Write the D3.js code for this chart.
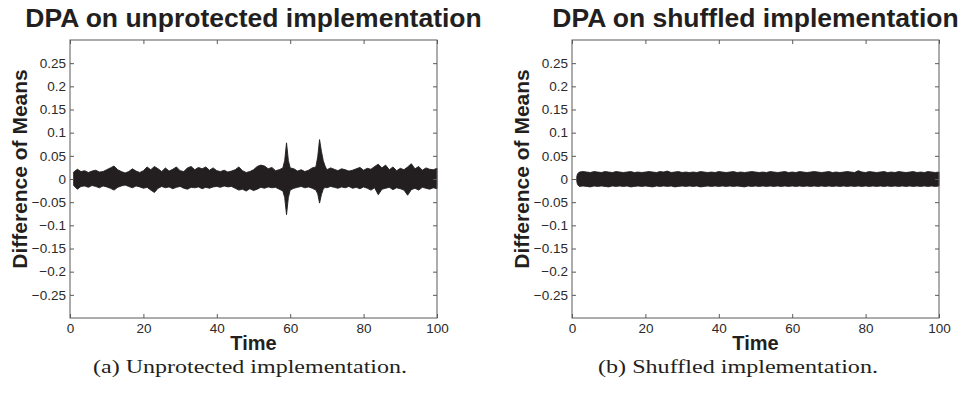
<!DOCTYPE html>
<html>
<head>
<meta charset="utf-8">
<script src="https://cdn.jsdelivr.net/npm/d3@7"></script>
<style>
  html, body { margin: 0; padding: 0; background: #fff; }
  svg { display: block; }
</style>
</head>
<body>
<svg id="chart" width="962" height="395"></svg>
<script>
// ---------------- DATA ----------------
const xTicks = [0, 20, 40, 60, 80, 100];
const xTickLabels = ["0", "20", "40", "60", "80", "100"];
const yTicks = [-0.25, -0.2, -0.15, -0.1, -0.05, 0, 0.05, 0.1, 0.15, 0.2, 0.25];
const yTickLabels = ["\u22120.25", "\u22120.2", "\u22120.15", "\u22120.1", "\u22120.05", "0", "0.05", "0.1", "0.15", "0.2", "0.25"];

const titles = ["DPA on unprotected implementation", "DPA on shuffled implementation"];
const captions = ["(a) Unprotected implementation.", "(b) Shuffled implementation."];
const xLabel = "Time";
const yLabel = "Difference of Means";

// Envelope of all difference-of-means traces, unprotected implementation
const timeA = [1,2,3,4,5,6,7,8,9,10,11,12,13,14,15,16,17,18,19,20,21,22,23,24,25,26,27,28,29,30,
  31,32,33,34,35,36,37,38,39,40,41,42,43,44,45,46,47,48,49,50,51,52,53,54,55,56,57,58,58.5,59,59.5,
  60,61,62,63,64,65,66,67,67.5,68,68.5,69,69.5,70,71,72,73,74,75,76,77,78,79,80,
  81,82,83,84,85,86,87,88,89,90,91,92,93,94,95,96,97,98,99,100];
const upperA = [0.015,0.021,0.016,0.018,0.014,0.017,0.019,0.015,0.016,0.020,
  0.024,0.028,0.020,0.016,0.013,0.016,0.022,0.017,0.014,0.018,
  0.026,0.020,0.027,0.022,0.016,0.024,0.017,0.021,0.026,0.018,
  0.016,0.024,0.027,0.020,0.025,0.022,0.026,0.019,0.024,0.018,
  0.016,0.019,0.015,0.017,0.020,0.026,0.018,0.014,0.016,0.020,
  0.027,0.030,0.028,0.022,0.025,0.018,0.020,0.024,
  0.040,0.078,0.040,
  0.024,0.022,0.017,0.020,0.016,0.019,0.024,0.026,
  0.048,0.085,0.060,0.040,0.028,
  0.020,0.024,0.021,0.018,0.022,0.020,0.017,0.019,0.022,0.025,0.019,
  0.023,0.021,0.027,0.032,0.024,0.030,0.020,0.026,0.018,0.023,
  0.020,0.026,0.033,0.022,0.027,0.019,0.024,0.021,0.020,0.023];
const lowerA = [-0.014,-0.022,-0.016,-0.015,-0.018,-0.014,-0.016,-0.019,-0.015,-0.017,
  -0.020,-0.024,-0.018,-0.015,-0.013,-0.016,-0.019,-0.015,-0.017,-0.020,
  -0.018,-0.024,-0.029,-0.020,-0.016,-0.019,-0.017,-0.021,-0.018,-0.016,
  -0.020,-0.022,-0.018,-0.019,-0.017,-0.021,-0.018,-0.020,-0.017,-0.016,
  -0.018,-0.015,-0.017,-0.016,-0.020,-0.024,-0.022,-0.026,-0.021,-0.025,
  -0.022,-0.018,-0.020,-0.017,-0.019,-0.018,-0.022,-0.026,
  -0.040,-0.077,-0.040,
  -0.024,-0.020,-0.018,-0.016,-0.019,-0.017,-0.020,-0.024,
  -0.032,-0.052,-0.034,-0.022,-0.018,
  -0.019,-0.016,-0.018,-0.020,-0.017,-0.019,-0.016,-0.020,-0.018,-0.021,-0.017,
  -0.020,-0.024,-0.019,-0.034,-0.022,-0.020,-0.018,-0.023,-0.019,-0.021,
  -0.024,-0.035,-0.023,-0.020,-0.024,-0.018,-0.020,-0.022,-0.019,-0.021];

// Envelope of all traces, shuffled implementation
const timeB = [1.3,1.5,2,3,4,5,6,7,8,9,10,11,12,13,14,15,16,17,18,19,20,21,22,23,24,25,26,27,28,29,30,
  31,32,33,34,35,36,37,38,39,40,41,42,43,44,45,46,47,48,49,50,51,52,53,54,55,56,57,58,59,60,
  61,62,63,64,65,66,67,68,69,70,71,72,73,74,75,76,77,78,79,80,81,82,83,84,85,86,87,88,89,90,
  91,92,93,94,95,96,97,98,99,100];
const upperB = [0.005,0.011,
  0.015,0.016,0.015,0.014,0.016,0.015,0.014,0.016,0.015,0.014,
  0.016,0.015,0.014,0.015,0.016,0.014,0.015,0.014,0.015,0.016,
  0.015,0.014,0.016,0.015,0.017,0.014,0.015,0.016,0.014,0.015,
  0.014,0.015,0.014,0.016,0.015,0.014,0.015,0.014,0.016,0.015,
  0.014,0.015,0.016,0.014,0.015,0.014,0.015,0.016,0.015,0.014,
  0.015,0.014,0.016,0.015,0.014,0.015,0.016,0.014,0.015,0.014,
  0.016,0.015,0.014,0.015,0.016,0.015,0.014,0.015,0.016,0.014,
  0.015,0.014,0.015,0.016,0.015,0.014,0.018,0.015,0.014,0.016,
  0.015,0.014,0.015,0.016,0.014,0.015,0.014,0.016,0.015,0.014,
  0.015,0.016,0.014,0.015,0.014,0.016,0.015,0.014,0.015];
const lowerB = [-0.005,-0.012,
  -0.016,-0.015,-0.016,-0.017,-0.015,-0.016,-0.015,-0.016,-0.017,-0.015,
  -0.016,-0.015,-0.016,-0.015,-0.017,-0.016,-0.015,-0.016,-0.015,-0.016,
  -0.017,-0.015,-0.016,-0.015,-0.016,-0.015,-0.017,-0.016,-0.015,-0.016,
  -0.015,-0.016,-0.015,-0.017,-0.016,-0.015,-0.016,-0.015,-0.016,-0.015,
  -0.016,-0.015,-0.016,-0.015,-0.016,-0.017,-0.015,-0.016,-0.015,-0.016,
  -0.015,-0.016,-0.015,-0.016,-0.015,-0.016,-0.015,-0.016,-0.015,-0.016,
  -0.015,-0.016,-0.015,-0.016,-0.015,-0.016,-0.015,-0.016,-0.015,-0.016,
  -0.015,-0.016,-0.015,-0.016,-0.015,-0.016,-0.015,-0.016,-0.015,-0.016,
  -0.015,-0.016,-0.015,-0.016,-0.015,-0.016,-0.015,-0.016,-0.015,-0.016,
  -0.015,-0.016,-0.015,-0.016,-0.015,-0.016,-0.015,-0.016,-0.015];

// ---------------- DRAWING ----------------
const svg = d3.select("#chart");
const SANS = "'Liberation Sans', Arial, Helvetica, sans-serif";
const SERIF = "'Liberation Serif', 'Times New Roman', serif";
const INK = "#231f20";
const AXIS = "#5a5a5a";

const panels = [
  { left: 70, right: 437, t: timeA, up: upperA, lo: lowerA, title: titles[0], caption: captions[0],
    capX: 250, capLen: 314, ylabX: 27, ylabY: 169 },
  { left: 572, right: 939, t: timeB, up: upperB, lo: lowerB, title: titles[1], caption: captions[1],
    capX: 738, capLen: 280, ylabX: 529, ylabY: 169 }
];
const plotTop = 40, plotBottom = 318;

panels.forEach(p => {
  const x = d3.scaleLinear().domain([0, 100]).range([p.left, p.right]);
  const y = d3.scaleLinear().domain([-0.3, 0.3]).range([plotBottom, plotTop]);
  const g = svg.append("g");

  // traces envelope
  const pts = p.t.map((t, i) => ({ t, u: p.up[i], l: p.lo[i] }));
  const area = d3.area().x(d => x(d.t)).y0(d => y(d.l)).y1(d => y(d.u));
  g.append("path").datum(pts).attr("d", area)
    .attr("fill", INK).attr("stroke", INK).attr("stroke-width", 0.9)
    .attr("stroke-linejoin", "round");

  // axes (MATLAB box style, inward ticks)
  const styleAxis = sel => {
    sel.attr("font-size", null).attr("font-family", null);
    sel.select(".domain").remove();
    sel.selectAll(".tick line").attr("stroke", AXIS);
    sel.selectAll(".tick text").attr("fill", "#2a2a2a")
      .style("font-family", SANS).style("font-size", "13.5px");
  };
  g.append("g").attr("transform", `translate(0,${plotBottom})`)
    .call(d3.axisBottom(x).tickValues(xTicks).tickFormat((d, i) => xTickLabels[i])
      .tickSizeInner(-4).tickSizeOuter(0).tickPadding(5))
    .call(styleAxis);
  g.append("g").attr("transform", `translate(0,${plotTop})`)
    .call(d3.axisTop(x).tickValues(xTicks).tickFormat("").tickSizeInner(-4).tickSizeOuter(0))
    .call(styleAxis);
  g.append("g").attr("transform", `translate(${p.left},0)`)
    .call(d3.axisLeft(y).tickValues(yTicks).tickFormat((d, i) => yTickLabels[i])
      .tickSizeInner(-4).tickSizeOuter(0).tickPadding(4))
    .call(styleAxis);
  g.append("g").attr("transform", `translate(${p.right},0)`)
    .call(d3.axisRight(y).tickValues(yTicks).tickFormat("").tickSizeInner(-4).tickSizeOuter(0))
    .call(styleAxis);

  g.append("rect").attr("x", p.left).attr("y", plotTop)
    .attr("width", p.right - p.left).attr("height", plotBottom - plotTop)
    .attr("fill", "none").attr("stroke", AXIS).attr("stroke-width", 1);

  // title
  g.append("text").attr("x", (p.left + p.right) / 2).attr("y", 27)
    .attr("text-anchor", "middle").attr("fill", INK)
    .style("font-family", SANS).style("font-weight", "bold").style("font-size", "26.5px")
    .text(p.title);

  // x label
  g.append("text").attr("x", (p.left + p.right) / 2).attr("y", 350)
    .attr("text-anchor", "middle").attr("fill", INK)
    .style("font-family", SANS).style("font-weight", "bold").style("font-size", "20px")
    .text(xLabel);

  // y label
  g.append("text").attr("transform", `translate(${p.ylabX},${p.ylabY}) rotate(-90)`)
    .attr("text-anchor", "middle").attr("fill", INK)
    .style("font-family", SANS).style("font-weight", "bold").style("font-size", "21px")
    .text(yLabel);

  // caption
  g.append("text").attr("x", p.capX).attr("y", 373)
    .attr("text-anchor", "middle").attr("fill", INK)
    .attr("textLength", p.capLen).attr("lengthAdjust", "spacingAndGlyphs")
    .style("font-family", SERIF).style("font-size", "19px")
    .text(p.caption);
});
</script>
</body>
</html>
